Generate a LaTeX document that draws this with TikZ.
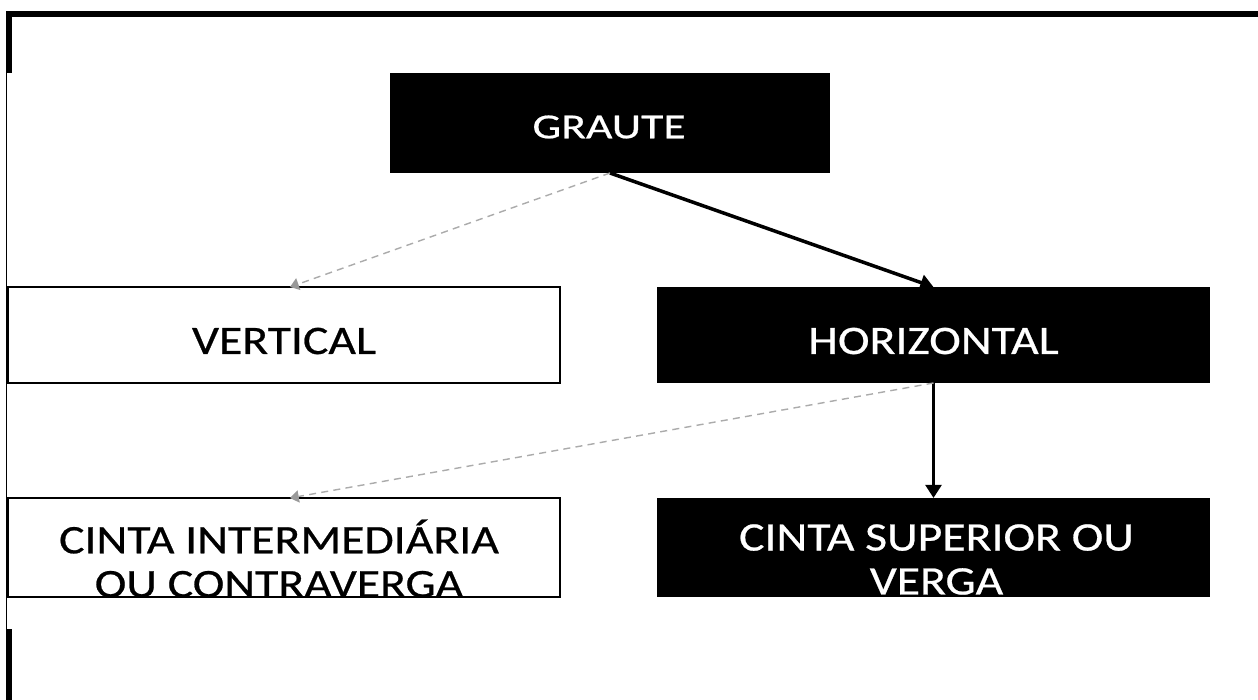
\documentclass[tikz,border=0pt]{standalone}
\usepackage{fontspec}
\setmainfont{Carlito}
\newfontfamily\grautefont{Carlito}[FakeStretch=1.3,FakeBold=0.6]
\newfontfamily\boxfont{Carlito}[FakeStretch=1.18,FakeBold=0.6]
\usepackage{tikz}
\usetikzlibrary{shapes,arrows,positioning,calc,arrows.meta}

\begin{document}
\begin{tikzpicture}[x=0.02cm, y=-0.02cm,
    darkbox/.style={fill=black, inner sep=0pt, outer sep=0pt},
    lightbox/.style={draw=black, line width=0.9pt, fill=white, inner sep=0pt, outer sep=0pt},
    boxtext/.style={align=center, font=\fontsize{23}{25}\selectfont\boxfont},
    mainlink/.style={line width=2pt, -{Triangle[length=7.5pt,width=9pt]}},
    sidelink/.style={line width=0.8pt, draw=black!33, dash pattern=on 4pt off 3pt, -{Triangle[length=5pt,width=7pt,color=black!40]}}]
    \useasboundingbox (0,0) rectangle (1258,700);

    % Frame
    \fill (6,11) rectangle (1258,17);
    \fill (6,11) rectangle (12,73);
    \draw[line width=0.75pt] (6.7,73) -- (6.7,629);
    \fill (6,629) rectangle (12,700);

    % Graute
    \node[darkbox, minimum width=8.8cm, minimum height=2cm] (graute) at (610,123) {};
    \node[text=white, font=\fontsize{20}{22}\selectfont\grautefont] (grauteTxt) at ($(graute.center)+(-1,4)$) {GRAUTE};

    % Vertical / Horizontal
    \node[lightbox, minimum width=11.04cm, minimum height=1.92cm] (vert) at (284,335) {};
    \node[boxtext] (vertTxt) at ($(vert.center)+(0,6)$) {VERTICAL};
    \node[darkbox, minimum width=11.06cm, minimum height=1.92cm] (horiz) at (933.5,335) {};
    \node[boxtext, text=white] (horizTxt) at ($(horiz.center)+(0,6)$) {HORIZONTAL};

    % Cintas
    \node[lightbox, minimum width=11.04cm, minimum height=1.98cm] (inter) at (284,547.5) {};
    \node[boxtext] (interTxt) at ($(inter.center)+(-5,11)$) {CINTA INTERMEDIÁRIA\\OU CONTRAVERGA};
    \node[darkbox, minimum width=11.06cm, minimum height=1.98cm] (super) at (933.5,547.5) {};
    \node[boxtext, text=white] (superTxt) at ($(super.center)+(3,12)$) {CINTA SUPERIOR OU\\VERGA};

    % Links
    \draw[mainlink] (graute.south) -- (horiz.north);
    \draw[sidelink] (graute.south) -- ($(vert.north)+(6,0)$);
    \draw[mainlink] (horiz.south) -- (super.north);
    \draw[sidelink] (horiz.south) -- ($(inter.north)+(6,0)$);
\end{tikzpicture}
\end{document}
